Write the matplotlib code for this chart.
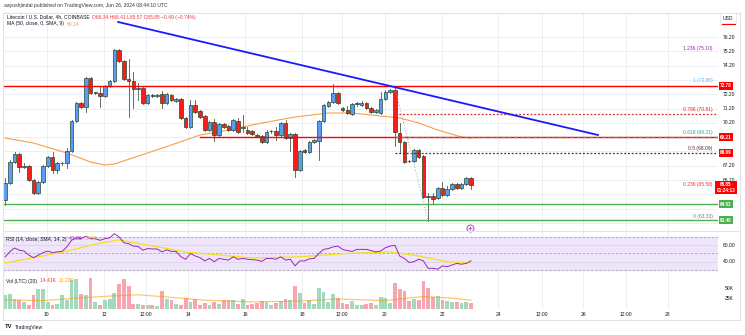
import matplotlib
matplotlib.use('Agg')
import matplotlib.pyplot as plt
from matplotlib.patches import Rectangle
from matplotlib.lines import Line2D
from matplotlib.transforms import blended_transform_factory as btf

# ---------------- data ----------------
opens = [64.80,65.99,67.46,68.02,67.11,67.18,66.20,65.29,66.06,67.18,
         67.81,66.90,67.36,67.39,68.23,70.33,71.59,71.31,73.34,72.26,
         72.29,72.08,72.78,73.13,75.30,74.53,73.27,73.13,72.60,72.64,
         71.59,72.15,72.08,72.22,71.59,72.15,71.73,71.87,70.54,69.91,
         71.45,71.03,70.68,69.70,70.26,69.35,70.12,69.98,69.70,70.33,
         69.84,69.70,69.63,69.35,69.28,68.86,69.60,69.63,69.35,70.19,
         69.14,69.42,66.90,68.30,68.16,68.86,68.93,70.33,71.38,71.66,
         72.29,71.24,71.10,70.82,71.52,71.45,71.59,71.24,70.96,70.89,
         71.87,72.36,72.50,69.49,68.86,67.53,67.53,68.30,67.88,65.08,
         65.08,64.94,65.64,65.15,65.57,65.92,65.64,65.92,66.34]
highs = [66.34,67.60,68.16,68.09,67.39,67.25,66.27,66.13,67.25,67.88,
         68.16,67.46,67.46,68.44,70.40,71.66,71.66,73.41,73.41,72.36,
         72.71,72.85,73.20,75.37,75.37,74.60,74.67,73.76,72.99,72.71,
         72.22,72.22,72.22,72.43,72.29,72.22,71.94,71.94,70.61,71.80,
         71.80,71.10,70.75,70.33,70.47,70.19,70.19,70.05,70.47,70.54,
         70.75,69.91,69.70,69.42,69.35,69.70,69.70,69.91,70.26,70.40,
         69.49,69.49,68.30,68.37,68.93,69.07,70.40,71.52,71.73,72.92,
         72.36,71.31,71.38,71.59,71.66,71.73,71.66,71.31,71.17,72.36,
         72.50,72.57,72.64,70.19,68.93,67.60,68.37,68.37,67.95,65.29,
         65.29,65.71,66.06,65.78,65.99,65.99,65.99,66.41,66.41]
lows = [64.45,65.92,67.39,66.76,67.04,66.13,65.22,65.22,65.99,67.11,
        66.69,66.69,67.25,67.04,68.16,70.26,71.24,70.96,72.22,72.22,
        71.31,72.01,72.71,73.06,74.46,73.20,70.61,71.24,71.80,71.52,
        71.52,72.01,72.01,71.24,71.52,71.73,71.66,70.47,69.84,69.84,
        70.89,70.54,69.63,69.63,68.93,69.28,69.84,69.63,69.63,69.49,
        69.56,69.42,69.35,69.21,68.82,68.79,69.49,69.00,69.28,69.07,
        68.23,66.41,66.83,68.09,68.09,68.79,67.60,70.26,71.31,71.59,
        71.52,71.03,70.82,70.75,71.38,71.38,71.17,70.89,70.89,70.82,
        71.80,72.29,68.58,68.16,67.39,67.46,67.46,67.74,64.94,63.33,
        64.52,64.87,65.08,65.08,65.50,65.57,65.57,65.85,65.57]
closes = [65.99,67.46,68.02,67.11,67.18,66.20,65.29,66.06,67.18,67.81,
          66.90,67.39,67.39,68.23,70.33,71.59,71.31,73.34,72.29,72.33,
          72.08,72.78,73.13,75.30,74.53,73.27,73.13,72.57,72.64,71.59,
          72.15,72.08,72.12,71.59,72.22,71.80,71.87,70.54,69.91,71.45,
          70.96,70.61,69.70,70.26,69.35,70.12,69.91,69.70,70.40,69.56,
          69.88,69.49,69.42,69.28,68.86,69.56,69.63,69.35,70.19,69.14,
          69.42,66.90,68.23,68.16,68.86,69.00,70.33,71.45,71.66,72.29,
          71.59,71.10,70.89,71.52,71.56,71.59,71.24,70.96,71.10,71.87,
          72.36,72.50,69.56,68.86,67.46,67.50,68.30,67.81,65.01,65.01,
          64.87,65.64,65.15,65.57,65.92,65.64,65.92,66.34,65.85]

ma_idx = [0, 6, 13, 18, 21, 23, 30, 35, 41, 47, 54, 61, 68, 73, 77, 83, 87, 91, 96, 98]
ma_val = [69.14, 68.79, 68.09, 67.46, 67.25, 67.32, 68.09, 68.65, 69.35, 69.70,
          70.19, 70.61, 70.89, 70.89, 70.75, 70.54, 70.19, 69.70, 69.21, 69.14]

rsi = [45.8,52,56.7,54,53,48,45,48,51,53,
       51,52,52.5,58,66,69,68,71,68,68,
       66,68,69,74,70,63,62,59,58.5,54,
       56,55.5,55.5,52,54.5,52.5,52.5,46,43,50,
       47,45,41,44,40,44,43,42,46,43,
       44,43,42.5,42,40.5,44,44,43,46,42,
       43,35,41,41,43.5,44,50,55,56,58,
       59,55,53.5,52.5,55,55,55,53.5,52,53,
       57,59,60,47,44,39,40,43,41,32,
       32,31,35,34,36,38,37,38,41]
rsi_ma_idx = [0, 7, 14, 20, 24, 30, 38, 45, 52, 62, 72, 81, 87, 93, 98]
rsi_ma_val = [38.5, 45.8, 54.2, 62.7, 66.4, 60.3, 51.8, 48.2, 44.5, 46, 50, 52, 47, 40, 38.5]

vol = [33.6,36,24,21.6,16.8,9.6,33.6,48,48,16.8,
       9.6,12,33.6,21.6,69.6,72,36,33.6,74.4,16.8,
       9.6,21.6,24,38.4,60,72,55.2,12,12,9.6,
       9.6,9.6,7.2,43.2,24,21.6,12,9.6,26.4,16.8,
       24,9.6,14.4,9.6,16.8,12,21.6,21.6,21.6,12,
       24,9.6,12,14,19,17,9,14,19,24,
       22,55,38,14,22,12,50,40,17,36,
       26,14,12,19,9,10,12,14,10,29,
       26,14,62,48,43,19,24,22,67,50,
       29,31,22,19,17,17,14,17,14.41]
vol_ma_idx = [0, 8, 15, 22, 28, 35, 42, 52, 62, 70, 80, 88, 94, 98]
vol_ma_val = [22, 20, 26, 31, 34, 28, 21, 17, 19, 24, 20, 30, 26, 21.22]

price_ticks = [63.2,64.2,65.2,66.2,67.2,68.2,69.2,70.2,71.2,72.2,73.2,74.2,75.2,76.2]
x_tick_pos = [8.8, 20.8, 29.7, 38.5, 50.5, 62.5, 70.9, 79.9, 91.9, 103.7, 112.9, 121.6, 130.6, 139.4]
x_tick_lab = ['10', '12', '12:00', '14', '16', '18', '12:00', '20', '22', '24', '12:00', '26', '12:00', '28']

resistance = [72.78, 69.21]
support = [64.52, 63.40]
trend_idx = [23.8, 124.7]
trend_price = [77.26, 69.35]
fib_low, fib_high = 63.33, 72.85
fib_ratios = [0, 0.236, 0.5, 0.618, 0.786, 1, 1.236]
fib_colors = ['#787b86', '#e53935', '#5d2a2a', '#26a69a', '#d32f2f', '#64b5f6', '#9c27b0']
fib_start = 82

# ---------------- layout ----------------
W, H = 745, 335
fig = plt.figure(figsize=(W/100, H/100), dpi=100)
fig.patch.set_facecolor('white')
FONT = 'Liberation Sans'
FS = 3.6

def ax_px(l, t, r, b):
    a = fig.add_axes([l/W, 1-b/H, (r-l)/W, (b-t)/H])
    a.set_xlim(-0.42, 149.95)
    a.set_xticks([]); a.set_yticks([])
    for s in a.spines.values():
        s.set_visible(False)
    a.patch.set_alpha(0)
    return a

ax = ax_px(3, 13, 718, 231)
axr = ax_px(3, 231, 718, 276)
axv = ax_px(3, 276, 718, 309)
ax.set_ylim(62.63, 77.89)
axr.set_ylim(22.7, 77.3)
axv.set_ylim(0, 79)

grid_c = '#eceef3'
for a in (ax, axr, axv):
    for xp in x_tick_pos:
        a.axvline(xp, color=grid_c, lw=0.7, zorder=0)
for p in price_ticks:
    ax.axhline(p, color=grid_c, lw=0.7, zorder=0)

def fline(x0, y0, x1, y1, c='#e0e3eb', lw=0.8):
    fig.add_artist(Line2D([x0/W, x1/W], [1-y0/H, 1-y1/H], color=c, lw=lw))
fline(3, 13, 740, 13); fline(3, 320, 740, 320)
fline(3, 13, 3, 320); fline(740, 13, 740, 320)
fline(3, 231, 740, 231)

# ---------------- candles ----------------
n = len(closes)
up_c, dn_c, edge_c = '#5b9cf6', '#ff1a1a', '#24492c'
for i in range(n):
    o, h, l, c = opens[i], highs[i], lows[i], closes[i]
    ax.plot([i, i], [l, h], color='#4a5a4a', lw=0.6, zorder=3)
    bot = min(o, c); ht = max(abs(c - o), 0.04)
    ax.add_patch(Rectangle((i - 0.38, bot), 0.76, ht, facecolor=up_c if c >= o else dn_c,
                           edgecolor=edge_c, lw=0.5, zorder=4))

ax.plot(ma_idx, ma_val, color='#f5a04a', lw=0.8, zorder=2)

ax.plot([-0.42, 149.95], [resistance[0]] * 2, color='#ff0000', lw=1.0, zorder=5)
ax.plot([41, 149.95], [resistance[1]] * 2, color='#ff0000', lw=1.0, zorder=5)
for s in support:
    ax.plot([-0.42, 149.95], [s, s], color='#4caf50', lw=1.0, zorder=5)

ax.plot(trend_idx, trend_price, color='#1a1aff', lw=1.3, zorder=6)

rng = fib_high - fib_low
for r, col in zip(fib_ratios, fib_colors):
    lv = fib_low + r * rng
    if r in (0.5, 0.618, 0.786):
        ls = (0, (1.5, 1.5)) if r != 0.618 else (0, (3, 2))
        ax.plot([fib_start, 149.95], [lv, lv], color=col, lw=0.9, ls=ls, zorder=5)
    ax.text(148.8, lv + 0.12, f"{r:g} ({lv:.2f})", color=col, fontsize=FS, family=FONT,
            ha='right', va='bottom', zorder=7)
ax.plot([fib_start, 89], [highs[82], lows[89]], color='#9e9e9e', lw=0.7, ls=(0, (1, 2)), zorder=5)

ax.plot([97.8], [62.86], marker='o', ms=5, mfc='white', mec='#ab47bc', mew=0.7, zorder=8, clip_on=False)
ax.plot([97.8], [62.86], marker='+', ms=2.5, mec='#ab47bc', mew=0.6, zorder=9, clip_on=False)

# ---------------- RSI ----------------
axr.axhspan(30, 70, color='#efe5fa', zorder=0)
for v in (70, 50, 30):
    axr.axhline(v, color='#a8a8b0', lw=0.6, ls=(0, (3, 2)), zorder=1)
for v in (40, 60):
    axr.axhline(v, color='#dcd3ea', lw=0.6, zorder=1)
axr.plot(range(n), rsi, color='#9c27b0', lw=0.7, zorder=3)
axr.plot(rsi_ma_idx, rsi_ma_val, color='#f2e21b', lw=0.9, zorder=2)

# ---------------- volume ----------------
vcols = ['#a3d9bd' if closes[i] >= opens[i] else '#f6a6ae' for i in range(n)]
axv.bar(range(n), vol, width=0.8, color=vcols, zorder=2)
axv.plot(vol_ma_idx, vol_ma_val, color='#ff9800', lw=0.9, alpha=0.55, zorder=3)

# ---------------- axis labels ----------------
tc = '#131722'
tr = btf(fig.transFigure, ax.transData)
box_levels = resistance + support + [fib_low + 0.5 * rng, closes[-1] - 0.2]
for p in price_ticks[1:]:
    if min(abs(p - b) for b in box_levels) < 0.55:
        continue
    ax.text(729/W, p, f"{p:.2f}", transform=tr, fontsize=FS, family=FONT, color=tc,
            ha='center', va='center')

def box(a, y, txt, col):
    a.text(726/W, y, txt, transform=btf(fig.transFigure, a.transData), fontsize=FS - 0.3,
           family=FONT, color='white', ha='center', va='center', fontweight='bold',
           bbox=dict(boxstyle='square,pad=0.25', fc=col, ec='none'), zorder=10)

box(ax, resistance[0], f"{resistance[0]:.2f}", '#ff0000')
box(ax, resistance[1], f"{resistance[1]:.2f}", '#ff0000')
box(ax, fib_low + 0.5 * rng, f"{fib_low + 0.5 * rng:.2f}", '#ff0000')
box(ax, closes[-1] - 0.2, f"{closes[-1]:.2f}\n01:24:13", '#ff0000')
for s in support:
    box(ax, s, f"{s:.2f}", '#4caf50')

trr = btf(fig.transFigure, axr.transData)
for v in (60, 40):
    axr.text(729/W, v, f"{v:.2f}", transform=trr, fontsize=FS, family=FONT, color=tc,
             ha='center', va='center')
trv = btf(fig.transFigure, axv.transData)
for v in (50, 25):
    axv.text(729/W, v, f"{v}K", transform=trv, fontsize=FS, family=FONT, color=tc,
             ha='center', va='center')

trx = btf(axv.transData, fig.transFigure)
for xp, lab in zip(x_tick_pos, x_tick_lab):
    axv.text(xp, 1 - 314/H, lab, transform=trx, fontsize=FS, family=FONT, color=tc,
             ha='center', va='center')

fig.text(728/W, 1 - 18/H, 'USD', fontsize=FS, family=FONT, color=tc, ha='center', va='center',
         bbox=dict(boxstyle='square,pad=0.5', fc='white', ec='#e0e3eb', lw=0.5))
fline(722, 24, 735, 24, c='#ff0000', lw=0.8)

# ---------------- legends / header ----------------
fig.text(4/W, 1 - 5/H, 'aayushjindal published on TradingView.com, Jun 26, 2024 08:44:10 UTC',
         fontsize=FS, family=FONT, color='#333333', va='center')
chg = closes[-1] - closes[-2]
ohlc = (f"O{opens[-1]:.2f} H{highs[-1]:.2f} L{lows[-1]:.2f} C{closes[-1]:.2f} "
        f"{chg:+.2f} ({chg / closes[-2] * 100:+.2f}%)").replace('-', '\u2212')
t1 = fig.text(7/W, 1 - 17/H, 'Litecoin / U.S. Dollar, 4h, COINBASE  ', fontsize=FS, family=FONT,
              color=tc, va='center')
fig.canvas.draw()
bb = t1.get_window_extent()
fig.text(bb.x1 / W, 1 - 17/H, ohlc, fontsize=FS, family=FONT, color='#f23645', va='center')

t2 = fig.text(7/W, 1 - 24/H, 'MA (50, close, 0, SMA, 9)  ', fontsize=FS, family=FONT, color=tc, va='center')
fig.canvas.draw()
fig.text(t2.get_window_extent().x1 / W, 1 - 24/H, f"{ma_val[-1]:.2f}", fontsize=FS, family=FONT,
         color='#f5a04a', va='center')

t3 = fig.text(6/W, 1 - 239/H, 'RSI (14, close, SMA, 14, 2)  ', fontsize=FS, family=FONT, color=tc, va='center')
fig.canvas.draw()
x3 = t3.get_window_extent().x1
t3b = fig.text(x3 / W, 1 - 239/H, f"{rsi[-1]:.2f}  ", fontsize=FS, family=FONT, color='#9c27b0', va='center')
fig.canvas.draw()
fig.text(t3b.get_window_extent().x1 / W, 1 - 239/H, f"{rsi_ma_val[-1]:.2f}", fontsize=FS, family=FONT,
         color='#d4c400', va='center')

t4 = fig.text(6/W, 1 - 281/H, 'Vol (LTC) (20)  ', fontsize=FS, family=FONT, color=tc, va='center')
fig.canvas.draw()
t4b = fig.text(t4.get_window_extent().x1 / W, 1 - 281/H, f"{vol[-1]:.2f}K  ", fontsize=FS, family=FONT,
               color='#f23645', va='center')
fig.canvas.draw()
fig.text(t4b.get_window_extent().x1 / W, 1 - 281/H, f"{vol_ma_val[-1]:.2f}K", fontsize=FS, family=FONT,
         color='#ff9800', va='center')

fig.text(5/W, 1 - 327/H, 'TV', fontsize=4.2, family=FONT, color='#131722', fontweight='bold', va='center')
fig.text(15/W, 1 - 327/H, 'TradingView', fontsize=FS, family=FONT, color='#131722', va='center')

fig.savefig('out.png', dpi=100, facecolor='white')
